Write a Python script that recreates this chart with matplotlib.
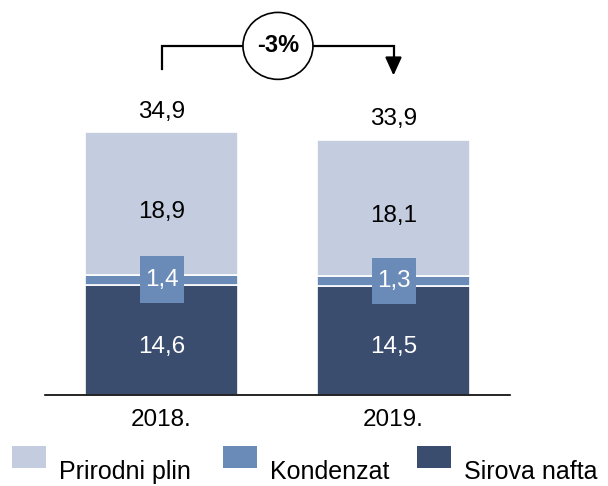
import matplotlib.pyplot as plt
from matplotlib.patches import Rectangle, Ellipse

plt.rcParams['font.family'] = ['Liberation Sans', 'DejaVu Sans']

years = ['2018.', '2019.']
sirova_nafta = [14.6, 14.5]
kondenzat = [1.4, 1.3]
prirodni_plin = [18.9, 18.1]
totals = [34.9, 33.9]
change_label = '-3%'

c_plin = '#c3cddf'
c_kond = '#6a8bb8'
c_nafta = '#3a4d6e'
fs = 17.5

fig = plt.figure(figsize=(6.08, 4.86), dpi=100)
ax = fig.add_axes([45.5 / 608, 91 / 486, 464 / 608, 395 / 486])
ax.set_xlim(-0.5, 1.5)
ax.set_ylim(0, 52.5)

x = list(range(len(years)))
w = 0.66
bottom2 = [a + b for a, b in zip(sirova_nafta, kondenzat)]
ax.bar(x, sirova_nafta, w, color=c_nafta, edgecolor='white', linewidth=1.2)
ax.bar(x, kondenzat, w, bottom=sirova_nafta, color=c_kond, edgecolor='white', linewidth=1.2)
ax.bar(x, prirodni_plin, w, bottom=bottom2, color=c_plin, edgecolor='white', linewidth=1.2)

fmt = lambda v: f'{v:.1f}'.replace('.', ',')
for i in x:
    ax.annotate(fmt(sirova_nafta[i]), (i, sirova_nafta[i] / 2), xytext=(0, -5),
                textcoords='offset points', ha='center', va='center', color='white', fontsize=fs)
    ax.annotate(fmt(prirodni_plin[i]), (i, bottom2[i] + prirodni_plin[i] / 2), xytext=(0, -6),
                textcoords='offset points', ha='center', va='center', color='black', fontsize=fs)
    # small segment label in a box of its own colour
    ax.add_patch(Rectangle((i - 22 / 232, sirova_nafta[i] + kondenzat[i] / 2 - 23.5 / 7.53), 44 / 232, 47 / 7.53,
                           facecolor=c_kond, edgecolor='none', zorder=3))
    ax.text(i, sirova_nafta[i] + kondenzat[i] / 2, fmt(kondenzat[i]), ha='center', va='center',
            color='white', fontsize=fs, zorder=4)
    ax.annotate(fmt(totals[i]), (i, totals[i]), xytext=(0, 15), textcoords='offset points',
                ha='center', va='center', color='black', fontsize=fs)

# change arrow
top = 46.4
ax.plot([0, 0, 1, 1], [totals[0] + 8.4, top, top, totals[1] + 10.4], color='black', lw=1.6,
        solid_joinstyle='miter', zorder=2)
ax.annotate('', xy=(1, totals[1] + 8.2), xytext=(1, totals[1] + 10.6),
            arrowprops=dict(arrowstyle='-|>,head_length=1.1,head_width=0.5', color='black', lw=1.6))
ax.add_patch(Ellipse((0.502, top), 70 / 232, 67 / 7.53, facecolor='white', edgecolor='black', lw=1.2, zorder=3))
ax.text(0.502, top, change_label, ha='center', va='center', fontsize=17, fontweight='bold', zorder=4)

for s in ['top', 'right', 'left']:
    ax.spines[s].set_visible(False)
ax.spines['bottom'].set_linewidth(1.2)
ax.set_yticks([])
ax.set_xticks(x)
ax.set_xticklabels(years, fontsize=fs)
ax.tick_params(axis='x', length=0, pad=10)

# legend
leg = [('Prirodni plin', c_plin, 12), ('Kondenzat', c_kond, 223), ('Sirova nafta', c_nafta, 417)]
for name, col, px in leg:
    fig.patches.append(Rectangle((px / 608, (486 - 468) / 486), 34 / 608, 22 / 486,
                                 transform=fig.transFigure, facecolor=col, edgecolor='none'))
    fig.text((px + 47) / 608, (486 - 479) / 486, name, fontsize=18, va='baseline', ha='left')

fig.savefig('out.png', dpi=100)
